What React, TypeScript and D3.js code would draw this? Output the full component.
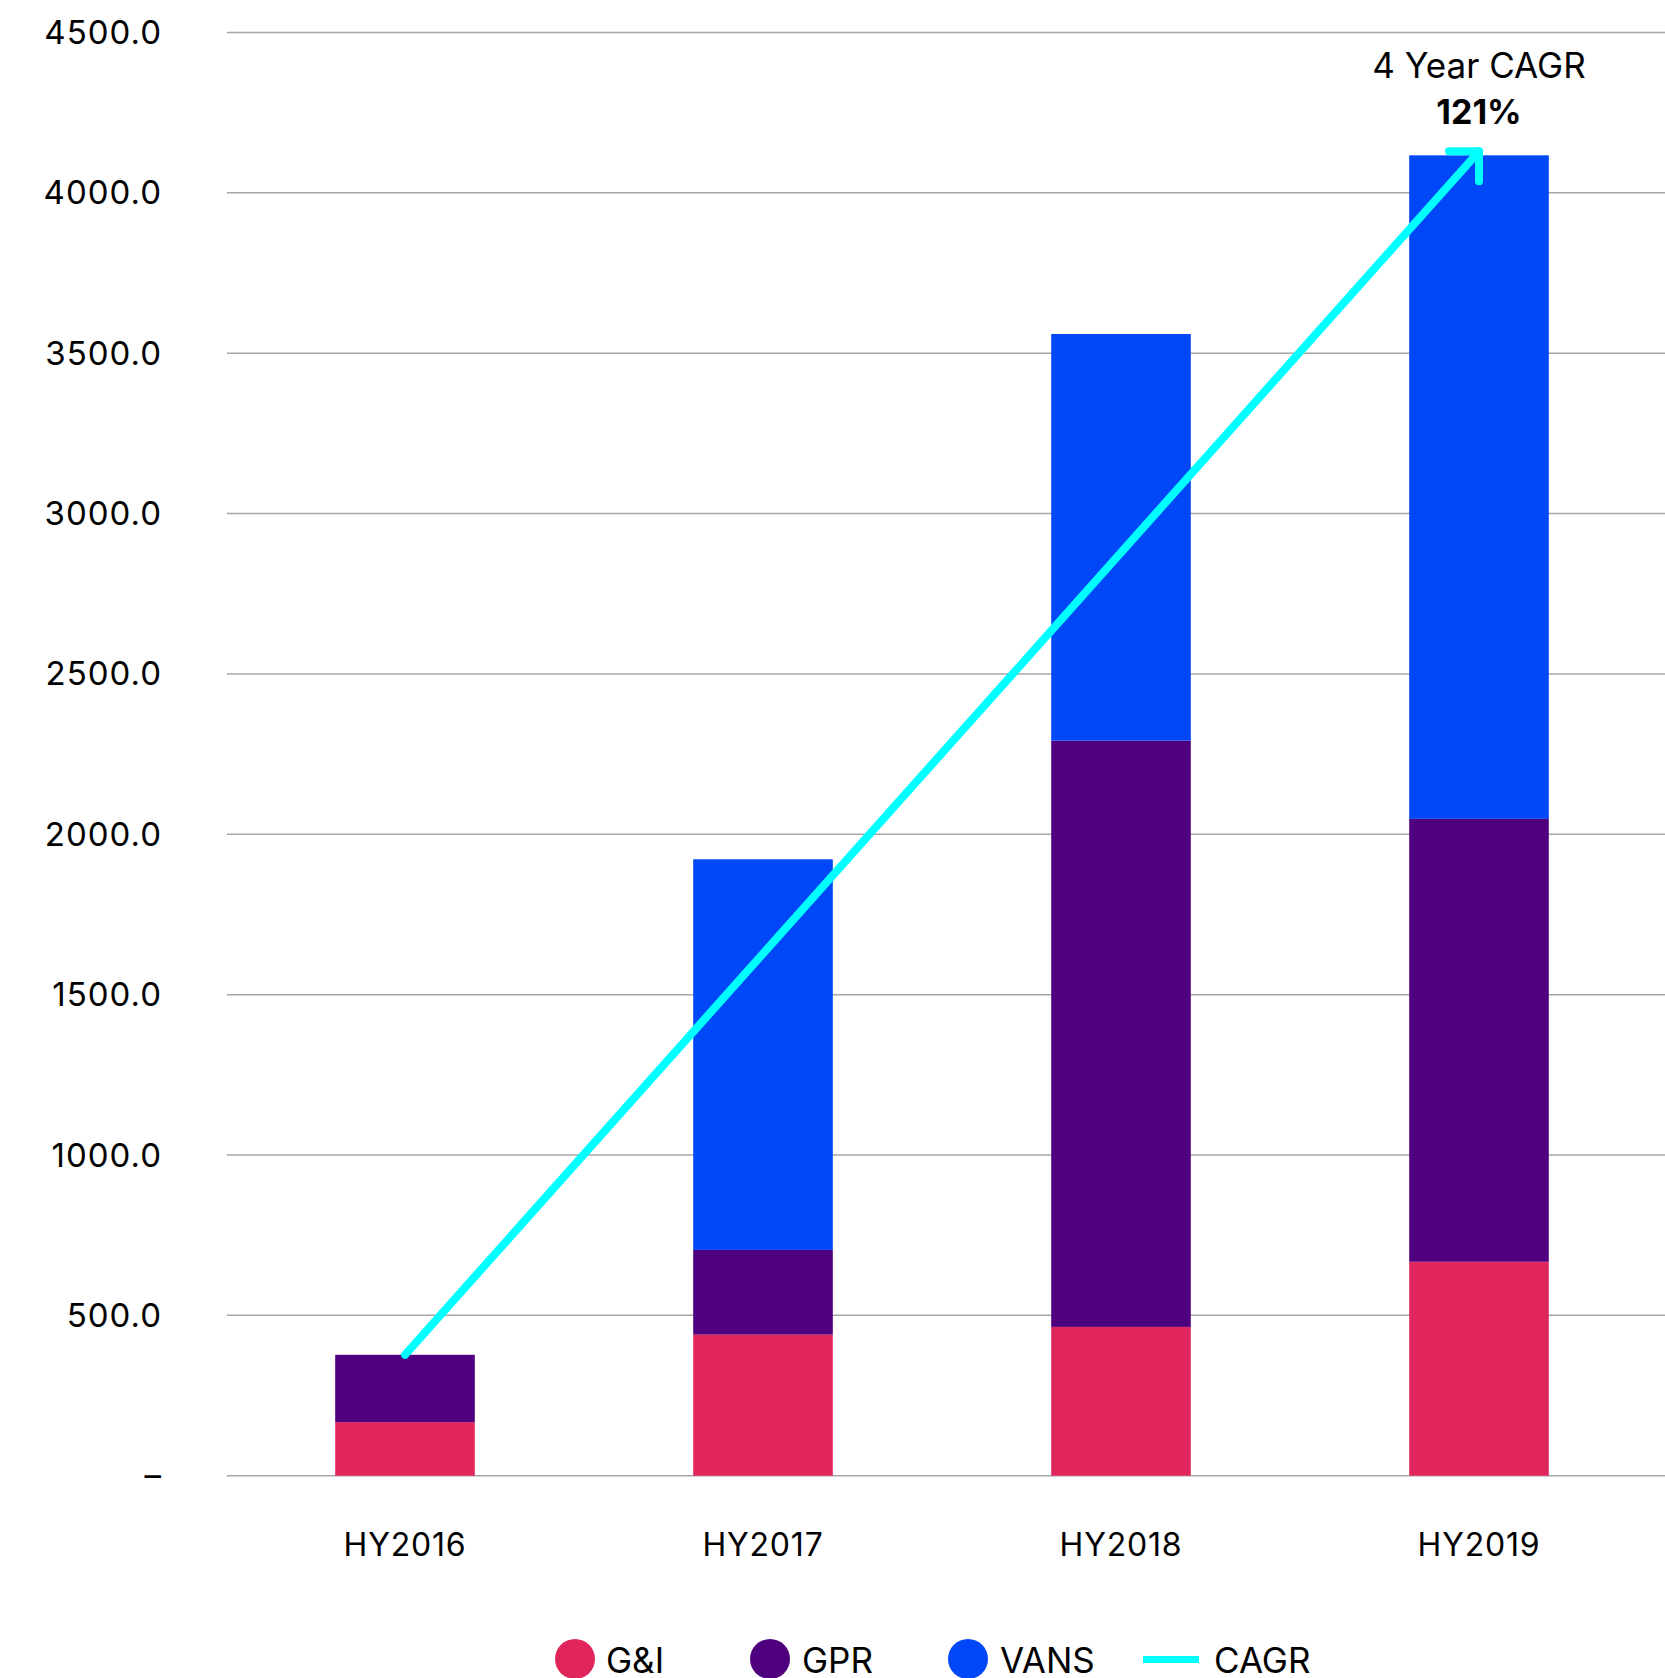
import React from "react";
import * as d3 from "d3";

const categories = ["HY2016", "HY2017", "HY2018", "HY2019"];
const seriesNames = ["G&I", "GPR", "VANS"];
const gniValues = [167, 440, 464, 667];
const gprValues = [210, 264, 1828, 1381];
const vansValues = [0, 1218, 1268, 2069];
const seriesColors = ["#E1255D", "#4E007F", "#0048F7"];
const yTicks = [0, 500, 1000, 1500, 2000, 2500, 3000, 3500, 4000, 4500];
const cagrLabel = "4 Year CAGR";
const cagrValue = "121%";
const cagrColor = "#00FFFF";

const W = 1665;
const H = 1678;
const FONT = "Inter, Lato, sans-serif";

export default function App() {
  const x = d3
    .scaleBand<string>()
    .domain(categories)
    .range([226, 1658])
    .paddingInner(0.61)
    .paddingOuter(0.305);
  const y = d3.scaleLinear().domain([0, 4500]).range([1475.7, 32.5]);

  const rows = categories.map((c, i) => ({
    cat: c,
    "G&I": gniValues[i],
    GPR: gprValues[i],
    VANS: vansValues[i],
  }));
  const stacked = d3.stack<any>().keys(seriesNames)(rows);
  const totals = categories.map(
    (_, i) => gniValues[i] + gprValues[i] + vansValues[i]
  );

  const fmt = (v: number) => (v === 0 ? "–" : d3.format(".1f")(v));

  const x0 = x(categories[0])! + x.bandwidth() / 2;
  const x1 = x(categories[categories.length - 1])! + x.bandwidth() / 2;
  const y0 = y(totals[0]);
  const y1 = y(totals[totals.length - 1]) - 4;
  const arm = 30;

  const legendItems = [
    { name: "G&I", type: "dot", color: seriesColors[0], cx: 575, tx: 606 },
    { name: "GPR", type: "dot", color: seriesColors[1], cx: 770, tx: 802 },
    { name: "VANS", type: "dot", color: seriesColors[2], cx: 968, tx: 1000 },
    { name: "CAGR", type: "line", color: cagrColor, cx: 1171, tx: 1214 },
  ];

  return (
    <svg
      width={W}
      height={H}
      style={{ position: "absolute", left: 0, top: 0, background: "#fff" }}
      fontFamily={FONT}
    >
      {yTicks.map((t) => (
        <g key={t}>
          <line
            x1={227}
            x2={W}
            y1={y(t)}
            y2={y(t)}
            stroke="#A6A6A6"
            strokeWidth={1.5}
          />
          <text
            x={162}
            y={y(t)}
            dy="0.35em"
            textAnchor="end"
            fontSize={33}
            letterSpacing={1}
            fill="#000"
          >
            {fmt(t)}
          </text>
        </g>
      ))}

      {stacked.map((s, si) => (
        <g key={s.key} fill={seriesColors[si]}>
          {s.map((d: any, i: number) =>
            d[1] - d[0] > 0 ? (
              <rect
                key={i}
                x={x(categories[i])}
                width={x.bandwidth()}
                y={y(d[1])}
                height={y(d[0]) - y(d[1])}
              />
            ) : null
          )}
        </g>
      ))}

      {categories.map((c) => (
        <text
          key={c}
          x={x(c)! + x.bandwidth() / 2}
          y={1556}
          textAnchor="middle"
          fontSize={32}
          letterSpacing={0.8}
          fill="#000"
        >
          {c}
        </text>
      ))}

      <g stroke={cagrColor} strokeWidth={8} strokeLinecap="round" fill="none">
        <line x1={x0} y1={y0} x2={x1} y2={y1} />
        <polyline
          points={`${x1 - arm},${y1} ${x1},${y1} ${x1},${y1 + arm}`}
          strokeLinejoin="round"
        />
      </g>

      <text x={1479} y={78} textAnchor="middle" fontSize={35} fill="#000">
        {cagrLabel}
      </text>
      <text
        x={1479}
        y={124}
        textAnchor="middle"
        fontSize={34}
        fontWeight="bold"
        fill="#000"
      >
        {cagrValue}
      </text>

      {legendItems.map((l) => (
        <g key={l.name}>
          {l.type === "dot" ? (
            <ellipse cx={l.cx} cy={1659} rx={20} ry={20} fill={l.color} />
          ) : (
            <rect x={l.cx - 28} y={1656} width={56} height={7} fill={l.color} />
          )}
          <text x={l.tx} y={1673} fontSize={35} fill="#000">
            {l.name}
          </text>
        </g>
      ))}
    </svg>
  );
}
